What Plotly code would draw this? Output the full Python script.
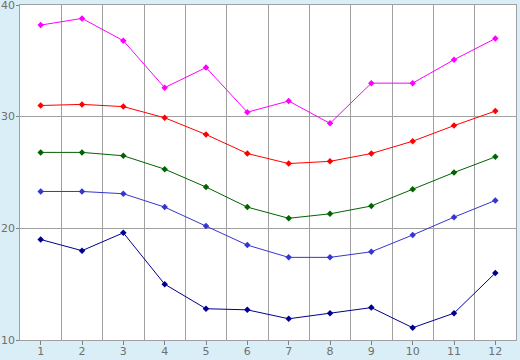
import plotly.graph_objects as go

months = [1, 2, 3, 4, 5, 6, 7, 8, 9, 10, 11, 12]
magenta_vals = [38.2, 38.8, 36.8, 32.6, 34.4, 30.4, 31.4, 29.4, 33.0, 33.0, 35.1, 37.0]
red_vals = [31.0, 31.1, 30.9, 29.9, 28.4, 26.7, 25.8, 26.0, 26.7, 27.8, 29.2, 30.5]
green_vals = [26.8, 26.8, 26.5, 25.3, 23.7, 21.9, 20.9, 21.3, 22.0, 23.5, 25.0, 26.4]
blue_vals = [23.3, 23.3, 23.1, 21.9, 20.2, 18.5, 17.4, 17.4, 17.9, 19.4, 21.0, 22.5]
navy_vals = [19.0, 18.0, 19.6, 15.0, 12.8, 12.7, 11.9, 12.4, 12.9, 11.1, 12.4, 16.0]
y_ticks = [10, 20, 30, 40]

series = [
    (magenta_vals, "#FF00FF"),
    (red_vals, "#FF0000"),
    (green_vals, "#006400"),
    (blue_vals, "#3535D0"),
    (navy_vals, "#000090"),
]

fig = go.Figure()
for vals, col in series:
    fig.add_trace(go.Scatter(
        x=months, y=vals, mode="lines+markers",
        line=dict(color=col, width=1),
        marker=dict(symbol="diamond", size=5, color=col),
        showlegend=False, hoverinfo="skip", cliponaxis=False,
    ))

label_col = "#707070"
for t in y_ticks:
    fig.add_annotation(
        x=0, xref="paper", y=t, yref="y", text=str(t), showarrow=False,
        xanchor="right", yanchor="middle", xshift=-3,
        font=dict(family="DejaVu Sans", size=11, color=label_col),
    )

axis_col = "#A0A0A0"
fig.update_layout(
    width=520, height=360,
    margin=dict(l=20, r=4, t=5, b=20),
    paper_bgcolor="#D9EEF6",
    plot_bgcolor="#FFFFFF",
    font=dict(family="DejaVu Sans", size=11, color=label_col),
    xaxis=dict(
        range=[0.5, 12.5], tickvals=months, ticktext=[str(m) for m in months],
        showgrid=False, zeroline=False, automargin=False,
        showline=True, linecolor=axis_col, mirror=True, linewidth=1,
        ticks="outside", ticklen=4, tickcolor="#808080", ticklabelstandoff=-3,
        minor=dict(tick0=0.5, dtick=1, showgrid=True, gridcolor=axis_col, gridwidth=1, ticks=""),
    ),
    yaxis=dict(
        range=[10, 40], tickvals=y_ticks, showticklabels=False,
        showgrid=True, gridcolor=axis_col, gridwidth=1, zeroline=False, automargin=False,
        showline=True, linecolor=axis_col, mirror=True, linewidth=1,
        ticks="outside", ticklen=3, tickcolor="#808080",
    ),
)

fig.write_html("out.html")
